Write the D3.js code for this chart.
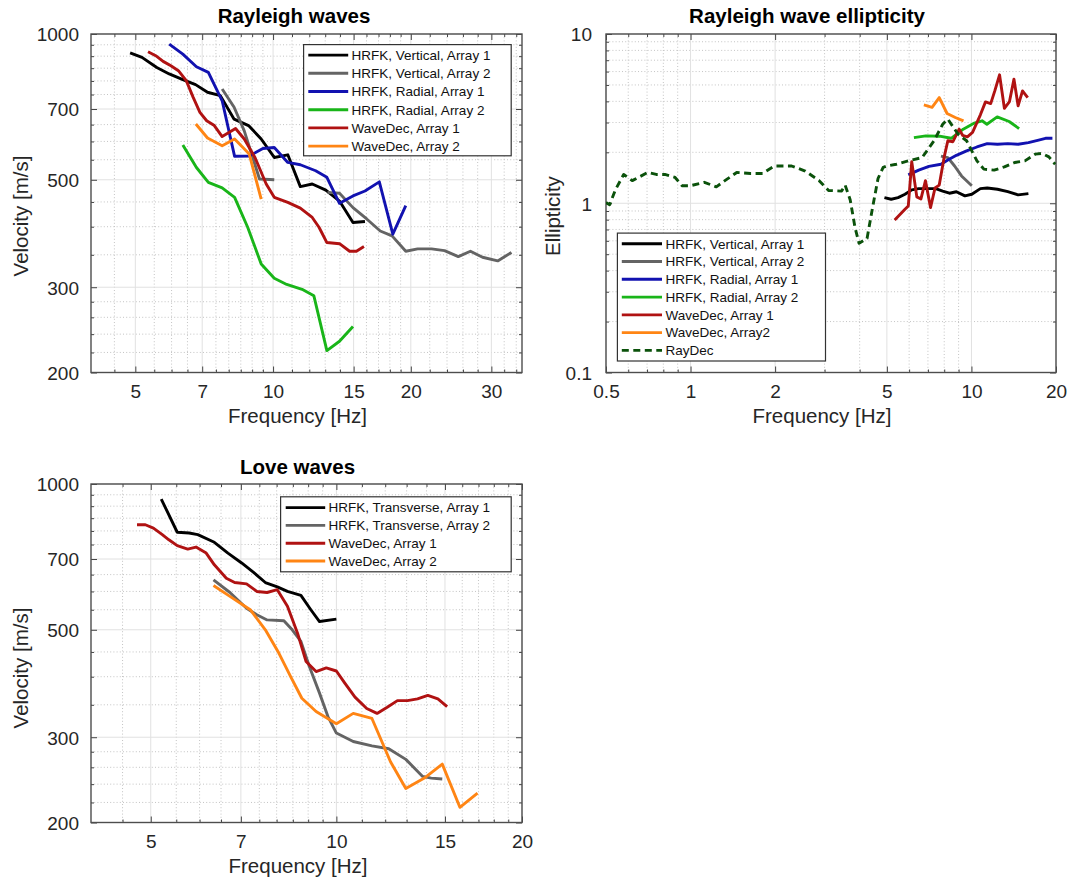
<!DOCTYPE html>
<html><head><meta charset="utf-8">
<script src="https://cdn.jsdelivr.net/npm/d3@7"></script>
<style>
html,body{margin:0;padding:0;background:#fff;}
svg{display:block;font-family:"Liberation Sans",Arial,Helvetica,sans-serif;}
</style></head>
<body><svg id="chart" width="1068" height="882"></svg>
<script>
// ---------------- DATA ----------------
// Rayleigh waves: [frequency Hz, velocity m/s]
const rayHrfkVert1 = [[4.87,914],[5.17,895],[5.57,853],[5.93,827],[6.35,805],[6.77,786],[7.19,758],[7.67,746],[8.22,667],[8.84,647],[9.42,607],[10.06,556],[10.77,563],[11.47,484],[12.18,490],[13.04,476],[13.97,452],[14.95,408],[15.88,410]];
const rayHrfkVert2 = [[7.74,770],[8.22,706],[8.65,631],[9.34,502],[10.06,500],null,[13.15,471],[13.97,469],[14.95,438],[16.02,415],[17.15,392],[18.2,383],[19.5,356],[20.7,360],[22.2,360],[23.7,357],[25.4,347],[27.0,356],[28.7,346],[30.97,340],[33.2,354]];
const rayHrfkRad1 = [[5.93,953],[6.35,909],[6.80,856],[7.22,833],[7.74,728],[8.24,559],[8.87,560],[9.50,580],[10.06,583],[10.77,543],[11.47,537],[12.39,522],[13.11,506],[13.97,447],[14.95,463],[15.88,474],[17.07,495],[18.27,386],[19.5,442]];
const rayHrfkRad2 = [[6.35,590],[6.80,530],[7.22,494],[7.74,481],[8.24,460],[8.80,399],[9.42,335],[10.06,313],[10.71,304],[11.57,297],[12.28,288],[13.11,222],[13.97,232],[14.95,249]];
const rayWaveDec1 = [[5.33,919],[5.54,902],[5.75,878],[5.98,860],[6.21,840],[6.46,801],[6.69,740],[6.92,689],[7.16,662],[7.44,647],[7.74,614],[8.28,638],[8.65,607],[9.13,556],[9.66,490],[10.06,460],[10.77,449],[11.47,437],[12.18,418],[12.6,399],[13.11,371],[13.97,369],[14.7,356],[15.21,356],[15.8,364]];
const rayWaveDec2 = [[6.78,652],[7.19,610],[7.74,588],[8.24,607],[8.87,565],[9.42,456]];

// Rayleigh wave ellipticity: [frequency Hz, ellipticity]
const ellHrfkVert1 = [[4.90,1.08],[5.18,1.056],[5.48,1.08],[5.80,1.13],[6.13,1.20],[6.49,1.22],[7.06,1.22],[7.46,1.22],[7.90,1.18],[8.35,1.146],[8.84,1.17],[9.48,1.105],[10.03,1.13],[10.76,1.22],[11.38,1.23],[12.38,1.21],[13.47,1.17],[14.66,1.12],[15.95,1.14]];
const ellHrfkVert2 = [[7.79,1.90],[8.24,1.86],[8.71,1.66],[9.22,1.45],[10.03,1.27]];
const ellHrfkRad1 = [[5.96,1.47],[6.49,1.57],[7.06,1.65],[7.79,1.70],[8.24,1.80],[8.84,1.92],[9.61,2.04],[10.46,2.15],[11.38,2.25],[12.38,2.23],[13.47,2.25],[14.66,2.23],[15.95,2.28],[17.35,2.36],[18.35,2.42],[19.42,2.42]];
const ellHrfkRad2 = [[6.24,2.44],[6.88,2.50],[7.70,2.49],[8.47,2.42],[9.35,2.74],[10.17,2.96],[10.91,3.07],[11.35,2.93],[12.35,3.24],[13.62,3.04],[14.78,2.76]];
const ellWaveDec1 = [[5.33,0.797],[5.80,0.922],[5.96,0.964],[6.13,1.76],[6.39,1.09],[6.61,1.06],[6.86,1.36],[7.15,0.943],[7.42,1.23],[7.68,1.28],[8.01,1.90],[8.24,2.34],[8.59,2.31],[9.04,2.74],[9.30,2.52],[9.67,2.47],[10.09,2.62],[10.76,3.33],[11.22,3.97],[11.71,3.88],[12.11,4.61],[12.59,5.74],[13.1,3.64],[13.66,3.99],[14.17,5.41],[14.66,3.76],[15.2,4.61],[15.86,4.21]];
const ellWaveDec2 = [[6.77,3.81],[7.24,3.69],[7.68,4.21],[8.19,3.39],[8.76,3.21],[9.37,3.07]];
const ellRayDec = [[0.5,1.01],[0.515,0.98],[0.54,1.2],[0.578,1.48],[0.62,1.36],[0.704,1.52],[0.755,1.48],[0.81,1.48],[0.881,1.42],[0.932,1.27],[1.0,1.27],[1.12,1.33],[1.235,1.25],[1.325,1.36],[1.46,1.52],[1.636,1.50],[1.805,1.50],[1.99,1.66],[2.29,1.66],[2.56,1.55],[2.87,1.36],[3.1,1.19],[3.45,1.18],[3.55,1.28],[3.7,1.05],[3.85,0.72],[3.98,0.58],[4.25,0.62],[4.45,0.95],[4.65,1.40],[4.85,1.63],[5.0,1.66],[5.4,1.70],[5.96,1.78],[6.67,1.86],[7.36,2.34],[7.90,2.93],[8.24,3.14],[8.96,2.56],[9.61,2.34],[10.46,1.78],[11.07,1.59],[12.04,1.57],[13.1,1.64],[14.25,1.74],[15.5,1.78],[16.87,1.95],[17.84,1.97],[18.87,1.88],[19.86,1.70]];

// Love waves: [frequency Hz, velocity m/s]
const loveHrfkTrans1 = [[5.20,931],[5.52,795],[5.77,792],[5.96,786],[6.34,758],[6.67,720],[7.02,687],[7.34,657],[7.67,626],[8.02,613],[8.33,600],[8.76,589],[9.09,550],[9.39,520],[10.0,526]];
const loveHrfkTrans2 = [[6.32,634],[6.72,597],[7.15,554],[7.43,537],[7.72,524],[8.22,522],[8.48,500],[8.76,473],[9.04,420],[9.39,370],[9.69,331],[10.0,306],[10.65,294],[11.42,288],[12.16,284],[12.96,270],[13.8,249],[14.25,247],[14.85,246]];
const loveWaveDec1 = [[4.75,824],[4.90,824],[5.05,811],[5.22,786],[5.35,767],[5.52,746],[5.74,734],[5.92,741],[6.15,720],[6.34,681],[6.63,639],[6.84,626],[7.15,622],[7.43,600],[7.72,597],[8.02,605],[8.33,559],[8.65,492],[8.93,430],[9.27,410],[9.63,417],[10.0,411],[10.32,388],[10.72,363],[11.2,344],[11.64,336],[12.09,346],[12.56,357],[13.04,357],[13.54,360],[14.07,366],[14.61,360],[15.12,347]];
const loveWaveDec2 = [[6.32,617],[6.72,586],[7.25,550],[7.67,500],[8.07,447],[8.43,400],[8.79,361],[9.27,339],[10.0,320],[10.65,336],[11.42,328],[12.24,267],[12.96,235],[13.89,247],[14.85,264],[15.86,215],[16.94,230]];

// Tick labels and grid values
const velTicks = [200,300,500,700,1000];
const velMinor = [220,240,260,280,350,400,450,550,600,650,750,800,850,900,950];
const rayFreqTicks = [5,7,10,15,20,30];
const rayFreqMinor = [4.5,5.5,6,6.5,7.5,8,8.5,9,9.5,11,12,13,14,16,17,18,19,22,24,26,28,32,34];
const ellFreqTicks = [0.5,1,2,5,10,20];
const ellFreqMinor = [0.6,0.7,0.8,0.9,3,4,6,7,8,9];
const ellTicks = [0.1,1,10];
const ellMinor = [0.2,0.3,0.4,0.5,0.6,0.7,0.8,0.9,2,3,4,5,6,7,8,9];
const loveFreqTicks = [5,7,10,15,20];
const loveFreqMinor = [4.5,5.5,6,6.5,7.5,8,8.5,9,9.5,11,12,13,14,16,17,18,19];

const rayNames = ["HRFK, Vertical, Array 1","HRFK, Vertical, Array 2","HRFK, Radial, Array 1","HRFK, Radial, Array 2","WaveDec, Array 1","WaveDec, Array 2"];
const ellNames = ["HRFK, Vertical, Array 1","HRFK, Vertical, Array 2","HRFK, Radial, Array 1","HRFK, Radial, Array 2","WaveDec, Array 1","WaveDec, Array2","RayDec"];
const loveNames = ["HRFK, Transverse, Array 1","HRFK, Transverse, Array 2","WaveDec, Array 1","WaveDec, Array 2"];

// ---------------- STYLE ----------------
const C = {black:"#000000", gray:"#646464", blue:"#1212b0", green:"#19b519", red:"#b01212", orange:"#ff8514", dgreen:"#0b520b"};
const FONT = '"Liberation Sans",Arial,Helvetica,sans-serif';

const svg = d3.select("#chart");
svg.append("rect").attr("width",1068).attr("height",882).attr("fill","#fff");

function fmt(v){ return String(v); }

function panel(cfg){
  const g = svg.append("g");
  const x = d3.scaleLog().domain(cfg.xDomain).range([cfg.x0,cfg.x1]);
  const y = d3.scaleLog().domain(cfg.yDomain).range([cfg.y1,cfg.y0]);
  const clipId = "clip"+cfg.id;
  svg.append("clipPath").attr("id",clipId).append("rect")
    .attr("x",cfg.x0).attr("y",cfg.y0).attr("width",cfg.x1-cfg.x0).attr("height",cfg.y1-cfg.y0);

  // minor grid (dotted)
  const gg = g.append("g");
  cfg.xMinor.forEach(v=>{
    gg.append("line").attr("x1",x(v)).attr("x2",x(v)).attr("y1",cfg.y0).attr("y2",cfg.y1)
      .attr("stroke","#bdbdbd").attr("stroke-width",0.9).attr("stroke-dasharray","1,2.2");
  });
  cfg.yMinor.forEach(v=>{
    gg.append("line").attr("y1",y(v)).attr("y2",y(v)).attr("x1",cfg.x0).attr("x2",cfg.x1)
      .attr("stroke","#bdbdbd").attr("stroke-width",0.9).attr("stroke-dasharray","1,2.2");
  });
  // major grid (solid light)
  cfg.xTicks.forEach(v=>{
    gg.append("line").attr("x1",x(v)).attr("x2",x(v)).attr("y1",cfg.y0).attr("y2",cfg.y1)
      .attr("stroke","#e1e1e1").attr("stroke-width",1);
  });
  cfg.yTicks.forEach(v=>{
    gg.append("line").attr("y1",y(v)).attr("y2",y(v)).attr("x1",cfg.x0).attr("x2",cfg.x1)
      .attr("stroke","#e1e1e1").attr("stroke-width",1);
  });

  // axes with inward ticks on all sides using d3 axes
  const tickCol = "#444";
  const mkAxis = (axisFn, scale, vals, size) => axisFn(scale).tickValues(vals).tickSize(size).tickFormat("");
  const addAxis = (ax, tx, ty) => {
    const a = g.append("g").attr("transform",`translate(${tx},${ty})`).call(ax);
    a.select(".domain").remove();
    a.selectAll("line").attr("stroke",tickCol).attr("stroke-width",1);
    return a;
  };
  addAxis(mkAxis(d3.axisBottom,x,cfg.xTicks,-6),0,cfg.y1);
  addAxis(mkAxis(d3.axisBottom,x,cfg.xMinor,-3),0,cfg.y1);
  addAxis(mkAxis(d3.axisTop,x,cfg.xTicks,-6),0,cfg.y0);
  addAxis(mkAxis(d3.axisTop,x,cfg.xMinor,-3),0,cfg.y0);
  addAxis(mkAxis(d3.axisLeft,y,cfg.yTicks,-6),cfg.x0,0);
  addAxis(mkAxis(d3.axisLeft,y,cfg.yMinor,-3),cfg.x0,0);
  addAxis(mkAxis(d3.axisRight,y,cfg.yTicks,-6),cfg.x1,0);
  addAxis(mkAxis(d3.axisRight,y,cfg.yMinor,-3),cfg.x1,0);

  // tick labels
  const xl = g.append("g").attr("transform",`translate(0,${cfg.y1})`)
    .call(d3.axisBottom(x).tickValues(cfg.xTicks).tickSize(0).tickPadding(0).tickFormat(fmt));
  xl.select(".domain").remove();
  xl.selectAll("text").attr("dy",null).attr("y",25).attr("font-size",19).attr("font-family",FONT).attr("fill","#262626");
  const yl = g.append("g").attr("transform",`translate(${cfg.x0},0)`)
    .call(d3.axisLeft(y).tickValues(cfg.yTicks).tickSize(0).tickPadding(0).tickFormat(fmt));
  yl.select(".domain").remove();
  yl.selectAll("text").attr("dy",null).attr("x",-cfg.yLabGap).attr("y",6.8).attr("font-size",19).attr("font-family",FONT).attr("fill","#262626");

  // box
  g.append("rect").attr("x",cfg.x0).attr("y",cfg.y0).attr("width",cfg.x1-cfg.x0).attr("height",cfg.y1-cfg.y0)
    .attr("fill","none").attr("stroke","#4d4d4d").attr("stroke-width",1.4);

  // series
  const line = d3.line().defined(d=>d!==null).x(d=>x(d[0])).y(d=>y(d[1]));
  const sg = g.append("g").attr("clip-path",`url(#${clipId})`);
  cfg.series.forEach(s=>{
    sg.append("path").attr("d",line(s.data)).attr("fill","none").attr("stroke",s.color)
      .attr("stroke-width",2.9).attr("stroke-linejoin","round").attr("stroke-linecap","butt")
      .attr("stroke-dasharray",s.dash||null);
  });

  // titles and labels
  g.append("text").attr("x",cfg.titleX).attr("y",cfg.titleY).attr("text-anchor","middle")
    .attr("font-size",20.5).attr("font-weight","bold").attr("font-family",FONT).attr("fill","#000").text(cfg.title);
  g.append("text").attr("x",cfg.xlabX).attr("y",cfg.xlabY).attr("text-anchor","middle")
    .attr("font-size",20.5).attr("font-family",FONT).attr("fill","#262626").text("Frequency [Hz]");
  g.append("text").attr("transform",`translate(${cfg.ylabX},${cfg.ylabY}) rotate(-90)`).attr("text-anchor","middle")
    .attr("font-size",20.5).attr("font-family",FONT).attr("fill","#262626").text(cfg.ylab);

  // legend
  const L = cfg.legend;
  const lg = g.append("g");
  lg.append("rect").attr("x",L.x0).attr("y",L.y0).attr("width",L.x1-L.x0).attr("height",L.y1-L.y0)
    .attr("fill","#fff").attr("stroke","#333").attr("stroke-width",1.2);
  cfg.series.forEach((s,i)=>{
    const ry = L.row0 + i*L.dy;
    lg.append("line").attr("x1",L.lx0).attr("x2",L.lx1).attr("y1",ry).attr("y2",ry)
      .attr("stroke",s.color).attr("stroke-width",2.9).attr("stroke-dasharray",s.dash||null);
    lg.append("text").attr("x",L.tx).attr("y",ry+4.8).attr("font-size",13.5).attr("font-family",FONT)
      .attr("fill","#111").text(s.name);
  });
}

panel({
  id:1, x0:91, x1:522, y0:34, y1:372.5, xDomain:[4,35], yDomain:[200,1000],
  xTicks:rayFreqTicks, xMinor:rayFreqMinor, yTicks:velTicks, yMinor:velMinor, yLabGap:12,
  title:"Rayleigh waves", titleX:294, titleY:23, xlabX:297.5, xlabY:423, ylab:"Velocity [m/s]", ylabX:28, ylabY:216,
  legend:{x0:303.6,x1:511.2,y0:44.6,y1:155.8,row0:55.1,dy:18.2,lx0:308.3,lx1:348.2,tx:351.6},
  series:[
    {name:rayNames[0],data:rayHrfkVert1,color:C.black},
    {name:rayNames[1],data:rayHrfkVert2,color:C.gray},
    {name:rayNames[2],data:rayHrfkRad1,color:C.blue},
    {name:rayNames[3],data:rayHrfkRad2,color:C.green},
    {name:rayNames[4],data:rayWaveDec1,color:C.red},
    {name:rayNames[5],data:rayWaveDec2,color:C.orange}
  ]
});

panel({
  id:2, x0:606, x1:1056, y0:34, y1:372.5, xDomain:[0.5,20], yDomain:[0.1,10],
  xTicks:ellFreqTicks, xMinor:ellFreqMinor, yTicks:ellTicks, yMinor:ellMinor, yLabGap:14,
  title:"Rayleigh wave ellipticity", titleX:807, titleY:23, xlabX:822, xlabY:423, ylab:"Ellipticity", ylabX:560, ylabY:216,
  legend:{x0:617.4,x1:825.5,y0:233.1,y1:361,row0:243.8,dy:17.76,lx0:621.8,lx1:662,tx:665.5},
  series:[
    {name:ellNames[0],data:ellHrfkVert1,color:C.black},
    {name:ellNames[1],data:ellHrfkVert2,color:C.gray},
    {name:ellNames[2],data:ellHrfkRad1,color:C.blue},
    {name:ellNames[3],data:ellHrfkRad2,color:C.green},
    {name:ellNames[4],data:ellWaveDec1,color:C.red},
    {name:ellNames[5],data:ellWaveDec2,color:C.orange},
    {name:ellNames[6],data:ellRayDec,color:C.dgreen,dash:"7,4.5"}
  ]
});

panel({
  id:3, x0:91, x1:522, y0:484, y1:822.5, xDomain:[4,20], yDomain:[200,1000],
  xTicks:loveFreqTicks, xMinor:loveFreqMinor, yTicks:velTicks, yMinor:velMinor, yLabGap:12,
  title:"Love waves", titleX:297.5, titleY:474, xlabX:298, xlabY:873, ylab:"Velocity [m/s]", ylabX:28, ylabY:668,
  legend:{x0:280.6,x1:511.2,y0:496.8,y1:571.8,row0:507.6,dy:17.8,lx0:285.7,lx1:325.2,tx:328.6},
  series:[
    {name:loveNames[0],data:loveHrfkTrans1,color:C.black},
    {name:loveNames[1],data:loveHrfkTrans2,color:C.gray},
    {name:loveNames[2],data:loveWaveDec1,color:C.red},
    {name:loveNames[3],data:loveWaveDec2,color:C.orange}
  ]
});
</script></body></html>
